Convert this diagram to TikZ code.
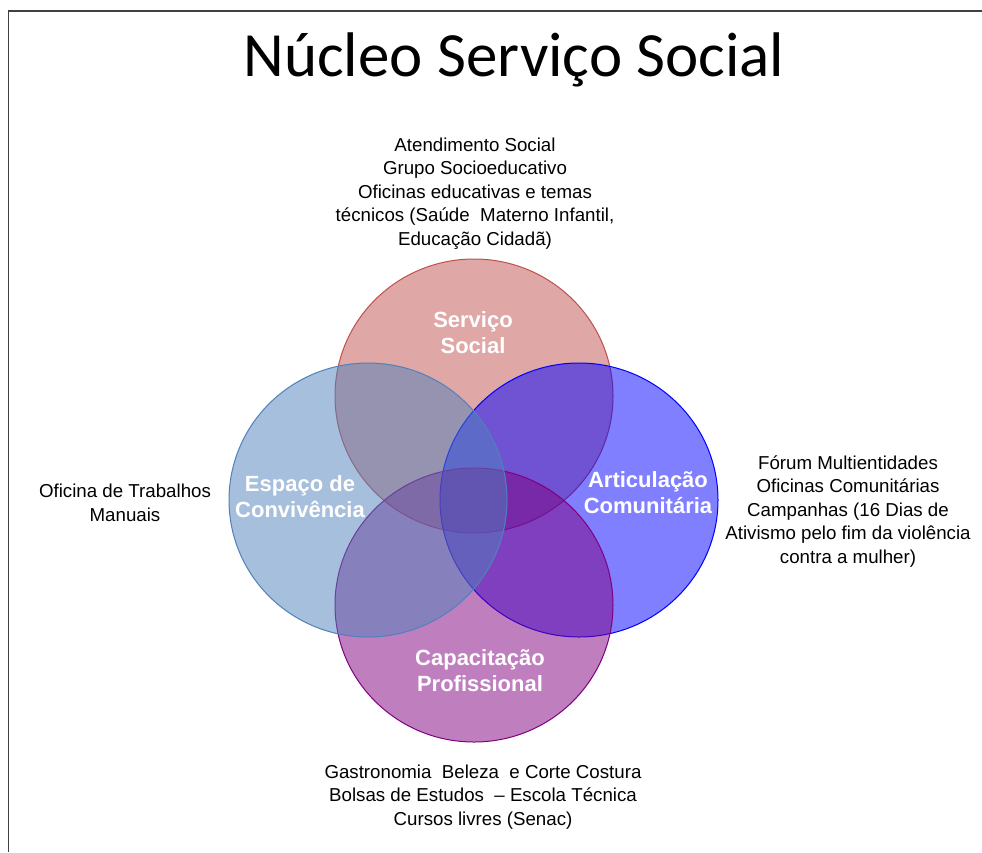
\documentclass[tikz,border=0pt]{standalone}
\usepackage{fontspec}
\setmainfont{Liberation Sans}
\newfontfamily\titlefont{Carlito}
\definecolor{frameC}{HTML}{404040}
\definecolor{cRed}{HTML}{C0504D}
\definecolor{cSteel}{HTML}{4F81BD}
\definecolor{cBlue}{HTML}{0000FF}
\definecolor{cPurple}{HTML}{800080}
\tikzset{
  venn/.style={ellipse, minimum width=278pt, minimum height=274pt, inner sep=0pt, fill opacity=0.5, line width=1pt},
  lbl/.style={text=white, font=\fontsize{22}{26}\selectfont\bfseries, align=center, anchor=base, inner sep=0pt},
  info/.style={text=black, font=\fontsize{18.7}{23.4}\selectfont, align=center, anchor=base, inner sep=0pt},
}
\usetikzlibrary{shapes.geometric}
\begin{document}
\begin{tikzpicture}[x=1pt,y=-1pt]
\useasboundingbox (0,0) rectangle (982,852);
\fill[white] (0,0) rectangle (982,852);
\draw[frameC, line width=1.5pt] (8.5,852) -- (8.5,11) -- (982,11);
\node[anchor=base, inner sep=0pt, font=\titlefont\fontsize{63}{70}\selectfont] (title) at (514,76) {Núcleo Serviço Social};
\node[venn, draw=cRed, fill=cRed] (cs) at (474,396) {};
\node[venn, draw=cBlue, fill=cBlue] (cr) at (579,500) {};
\node[venn, draw=cPurple, fill=cPurple] (cb) at (474,605) {};
\node[venn, draw=cSteel, fill=cSteel] (cl) at (368,500) {};
\node[lbl] (ls) at (473,353) {Serviço\\Social};
\node[lbl] (ll) at (300,517) {Espaço de\\Convivência};
\node[lbl] (lr) at (648,513) {Articulação\\Comunitária};
\node[lbl] (lb) at (480,691) {Capacitação\\Profissional};
\node[info] (ts) at (475,245) {Atendimento Social\\Grupo Socioeducativo\\Oficinas educativas e temas\\técnicos (Saúde\ \ Materno Infantil,\\Educação Cidadã)};
\node[info] (tl) at (125,521) {Oficina de Trabalhos\\Manuais};
\node[info] (tr) at (848,563) {Fórum Multientidades\\Oficinas Comunitárias\\Campanhas (16 Dias de\\Ativismo pelo fim da violência\\contra a mulher)};
\node[info] (tb) at (483,825) {Gastronomia\ \ Beleza\ \ e Corte Costura\\Bolsas de Estudos\ \ – Escola Técnica\\Cursos livres (Senac)};
\end{tikzpicture}
\end{document}
